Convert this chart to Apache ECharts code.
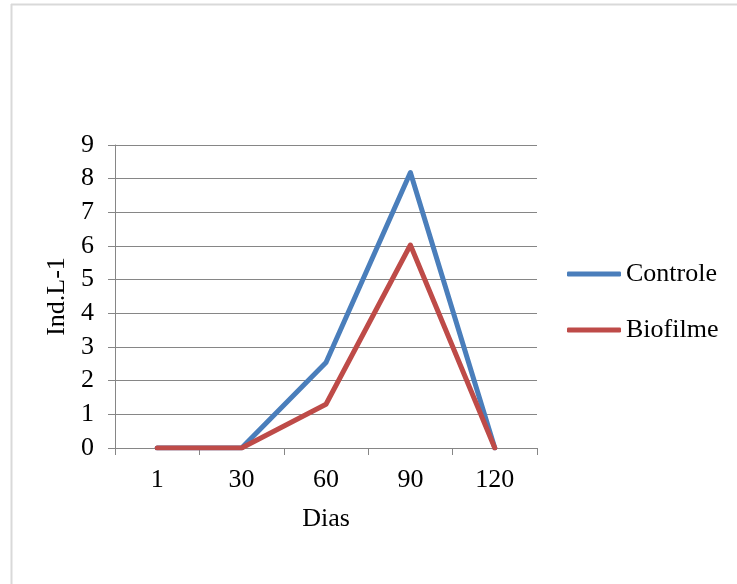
<!DOCTYPE html>
<html>
<head>
<meta charset="utf-8">
<script src="https://cdn.jsdelivr.net/npm/echarts@6/dist/echarts.min.js"></script>
<style>
  html, body { margin: 0; padding: 0; background: #fff; }
  #chart { width: 737px; height: 584px; }
</style>
</head>
<body>
<div id="chart"></div>
<script>
// Days of sampling and densities (Ind.L-1) for each treatment
var dias = ['1', '30', '60', '90', '120'];
var controle = [0, 0, 2.54, 8.18, 0];
var biofilme = [0, 0, 1.3, 6.03, 0];
var yTicks = { min: 0, max: 9, step: 1 };

var serif = '"Liberation Serif", "Times New Roman", serif';
var axisGray = '#868686';
var fontPx = 26;

var chart = echarts.init(document.getElementById('chart'), null, { renderer: 'canvas' });

chart.setOption({
  backgroundColor: '#ffffff',
  animation: false,
  graphic: [
    // chart-area frame (top and left edges)
    { type: 'line', shape: { x1: 11, y1: 4.5, x2: 737, y2: 4.5 }, style: { stroke: '#d9d9d9', lineWidth: 2 } },
    { type: 'line', shape: { x1: 11.5, y1: 4, x2: 11.5, y2: 584 }, style: { stroke: '#d9d9d9', lineWidth: 2 } }
  ],
  grid: { left: 115, right: 200, top: 145, bottom: 136, containLabel: false },
  legend: {
    orient: 'vertical',
    left: 562,
    top: 256,
    itemWidth: 54,
    itemHeight: 5,
    itemGap: 30,
    icon: 'roundRect',
    textStyle: { fontFamily: serif, fontSize: fontPx, color: '#000' },
    data: ['Controle', 'Biofilme']
  },
  xAxis: {
    type: 'category',
    data: dias,
    boundaryGap: true,
    name: 'Dias',
    nameLocation: 'middle',
    nameGap: 58,
    nameTextStyle: { fontFamily: serif, fontSize: fontPx, color: '#000' },
    axisLine: { lineStyle: { color: axisGray, width: 1 } },
    axisTick: { show: true, length: 7, alignWithLabel: false, lineStyle: { color: axisGray } },
    axisLabel: { fontFamily: serif, fontSize: fontPx, color: '#000', margin: 19 },
    splitLine: { show: false }
  },
  yAxis: {
    type: 'value',
    min: yTicks.min,
    max: yTicks.max,
    interval: yTicks.step,
    name: 'Ind.L-1',
    nameLocation: 'middle',
    nameGap: 45,
    nameTextStyle: { fontFamily: serif, fontSize: fontPx, color: '#000' },
    axisLine: { show: true, lineStyle: { color: axisGray, width: 1 } },
    axisTick: { show: true, length: 7, lineStyle: { color: axisGray } },
    axisLabel: { fontFamily: serif, fontSize: fontPx, color: '#000', margin: 21 },
    splitLine: { show: true, lineStyle: { color: axisGray, width: 1 } }
  },
  series: [
    {
      name: 'Controle',
      type: 'line',
      data: controle,
      showSymbol: false,
      symbol: 'none',
      color: '#4A7EBB',
      lineStyle: { width: 5, color: '#4A7EBB', cap: 'round', join: 'round' }
    },
    {
      name: 'Biofilme',
      type: 'line',
      data: biofilme,
      showSymbol: false,
      symbol: 'none',
      color: '#BE4B48',
      lineStyle: { width: 5, color: '#BE4B48', cap: 'round', join: 'round' }
    }
  ]
});
</script>
</body>
</html>
